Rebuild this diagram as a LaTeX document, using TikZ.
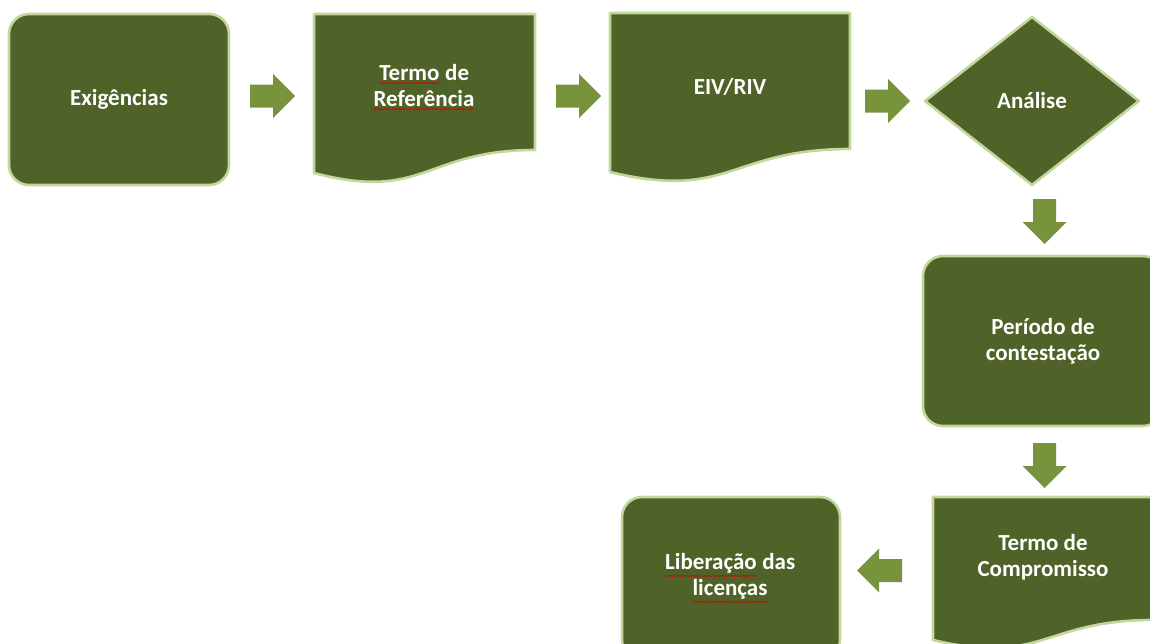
\documentclass[tikz,border=0pt]{standalone}
\usepackage{fontspec}
\setmainfont{Carlito}
\usetikzlibrary{decorations.pathmorphing}
\definecolor{boxfill}{HTML}{4F6228}
\definecolor{boxline}{HTML}{C3D69B}
\definecolor{arrowc}{HTML}{77933C}
\newcommand\spellwave[1]{\tikz[baseline=(w.base),x=1pt,y=1pt]{\node[inner sep=0pt,text=white,anchor=base](w){#1};\draw[red!85!black,line width=0.5pt,decorate,decoration={snake,amplitude=0.7pt,segment length=2.6pt}] ([yshift=-2.5pt]w.south west) -- ([yshift=-2.5pt]w.south east);}}
\tikzset{
  shapebase/.style={fill=boxfill, draw=boxline, line width=2.6pt, line join=round},
  roundbox/.style={shapebase, rounded corners=20pt, inner sep=0pt},
  lbl/.style={text=white, font=\bfseries\fontsize{23}{26}\selectfont, align=center, inner sep=0pt},
  blockarrow/.pic={\fill[arrowc] (0,-11.5) -- (23,-11.5) -- (23,-22) -- (45,0) -- (23,22) -- (23,11.5) -- (0,11.5) -- cycle;}
}
\begin{document}
\begin{tikzpicture}[x=1pt,y=-1pt]
\useasboundingbox (0,0) rectangle (1150,643);
\clip (0,0) rectangle (1150,643);
% boxes
\node[roundbox, minimum width=220pt, minimum height=171pt] (exig) at (119,99.5) {};
\node[lbl] (exigt) at (exig.center) {Exigências};
\draw[shapebase] (314,14) -- (535,14) -- (535,150) .. controls (424.5,150) and (424.5,202) .. (314,173) -- cycle;
\node[lbl] (tref) at (424,87) {\spellwave{Termo} de\\\spellwave{Referência}};
\draw[shapebase] (610,13) -- (850,13) -- (850,149) .. controls (730,149) and (730,201) .. (610,172) -- cycle;
\node[lbl] (eiv) at (730,87) {EIV/RIV};
\draw[shapebase] (925,101) -- (1032,17) -- (1139,101) -- (1032,185) -- cycle;
\node[lbl] (anal) at (1032,101) {Análise};
\node[roundbox, minimum width=240pt, minimum height=170pt] (perb) at (1043,341) {};
\node[lbl] (per) at (perb.center) {Período de\\contestação};
\draw[shapebase] (933,497) -- (1153,497) -- (1153,620) .. controls (1043,620) and (1043,666) .. (933,640) -- cycle;
\node[lbl] (tcomp) at (1043,557) {Termo de\\Compromisso};
\node[roundbox, minimum width=218pt, minimum height=163pt] (libb) at (731,578.5) {};
\node[lbl] (lib) at (730,578) {\spellwave{Liberação} das\\\spellwave{licenças}};
% block arrows
\pic at (250,96) {blockarrow};
\pic at (556,96) {blockarrow};
\pic at (865,101) {blockarrow};
\pic[rotate=-90] at (1044.5,199) {blockarrow};
\pic[rotate=-90] at (1044.5,443) {blockarrow};
\pic[rotate=180] at (902,570.5) {blockarrow};
\end{tikzpicture}
\end{document}
